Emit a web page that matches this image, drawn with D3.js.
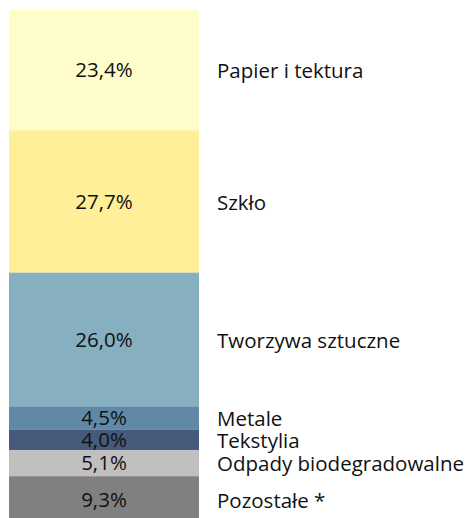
<!DOCTYPE html>
<html>
<head>
<meta charset="utf-8">
<script src="https://cdn.jsdelivr.net/npm/d3@7"></script>
<style>
  body { margin: 0; background: #fff; }
</style>
</head>
<body>
<div id="chart"></div>
<script>
const categories = ["Papier i tektura", "Szkło", "Tworzywa sztuczne", "Metale", "Tekstylia", "Odpady biodegradowalne", "Pozostałe *"];
const shares = [23.4, 27.7, 26.0, 4.5, 4.0, 5.1, 9.3];
const colors = ["#fffdc9", "#ffef99", "#86afbf", "#6089a8", "#465a7c", "#c0c0c0", "#808080"];

const width = 468, height = 518;
const fontSize = 20.5;
const svg = d3.select("#chart").append("svg").attr("width", width).attr("height", height);

// cumulative stacking, top to bottom
let acc = 0;
const segs = shares.map((v, i) => {
    const s = { cat: categories[i], value: v, y0: acc, y1: acc + v, color: colors[i] };
    acc += v;
    return s;
});

// bar runs past the bottom edge (clipped like the original)
const y = d3.scaleLinear().domain([0, 100]).range([10, 524]);
const x = d3.scaleBand().domain(["all"]).range([9, 199]).padding(0);

svg.selectAll("rect.seg").data(segs).enter().append("rect")
    .attr("class", "seg")
    .attr("x", x("all")).attr("width", x.bandwidth())
    .attr("y", d => y(d.y0)).attr("height", d => y(d.y1) - y(d.y0))
    .attr("fill", d => d.color);

const fmt = v => v.toFixed(1).replace(".", ",") + "%";
const font = "'Open Sans', sans-serif";
const mid = d => (y(d.y0) + y(d.y1)) / 2;
const capHalf = fontSize * 0.357;

svg.selectAll("text.val").data(segs).enter().append("text")
    .attr("class", "val")
    .attr("x", x("all") + x.bandwidth() / 2)
    .attr("y", d => mid(d) + capHalf)
    .attr("text-anchor", "middle")
    .style("font-family", font).style("font-size", fontSize + "px").style("fill", "#111")
    .text(d => fmt(d.value));

svg.selectAll("text.cat").data(segs).enter().append("text")
    .attr("class", "cat")
    .attr("x", 217)
    .attr("y", d => mid(d) + capHalf + 1)
    .style("font-family", font).style("font-size", fontSize + "px").style("fill", "#111")
    .text(d => d.cat);
</script>
</body>
</html>
